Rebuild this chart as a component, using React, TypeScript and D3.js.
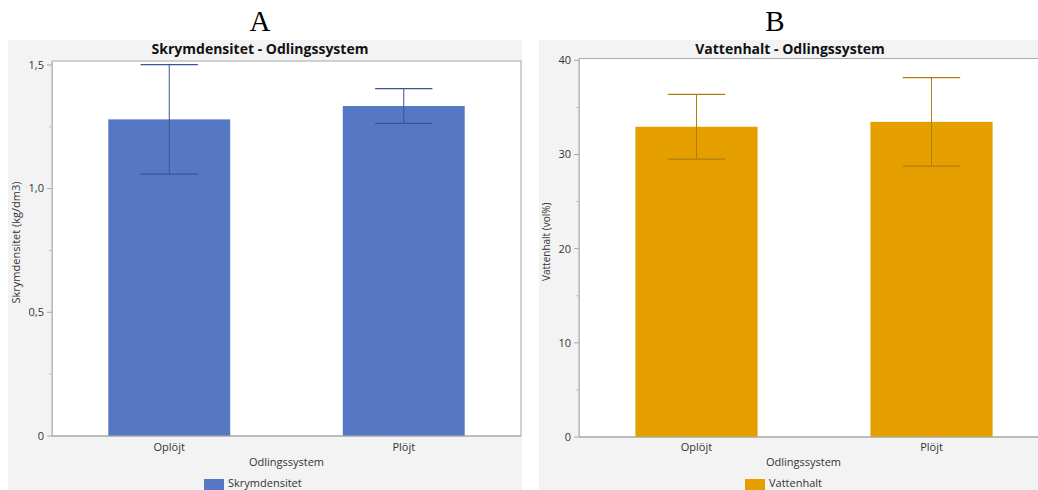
import React from "react";
import * as d3 from "d3";

const categories = ["Oplöjt", "Plöjt"];
const densityMeans = [1.28, 1.334];
const densityErrors = [0.221, 0.07];
const waterMeans = [32.95, 33.47];
const waterErrors = [3.43, 4.7];
const densityTicks = [0, 0.5, 1.0, 1.5];
const densityMinor = [0.25, 0.75, 1.25];
const waterTicks = [0, 10, 20, 30, 40];
const waterMinor = [5, 15, 25, 35];

const FONT = "'Open Sans', 'Noto Sans', sans-serif";

type PanelProps = {
  letter: string;
  title: string;
  yLabel: string;
  legend: string;
  means: number[];
  errors: number[];
  ticks: number[];
  minor: number[];
  domainMax: number;
  fmt: (v: number) => string;
  bgX: number;
  bgW: number;
  plotL: number;
  plotR: number;
  plotT: number;
  plotB: number;
  color: string;
  errColor: string;
  letterX: number;
  titleX: number;
  yLabelX: number;
  yLabelSize: number;
  legendX: number;
  clipId: string;
};

function Panel(p: PanelProps) {
  const x = d3
    .scaleBand<string>()
    .domain(categories)
    .range([p.plotL, p.plotR])
    .paddingInner(0.48)
    .paddingOuter(0.24);
  const y = d3.scaleLinear().domain([0, p.domainMax]).range([p.plotB, p.plotT]);
  const capW = x.bandwidth() * 0.47;
  const midY = (p.plotT + p.plotB) / 2;
  return (
    <g>
      <rect x={p.bgX} y={40} width={p.bgW} height={450} fill="#f3f3f3" />
      <text
        x={p.letterX}
        y={31}
        textAnchor="middle"
        fontFamily="'Liberation Serif', 'DejaVu Serif', serif"
        fontSize={29}
        fill="#000"
      >
        {p.letter}
      </text>
      <text
        x={p.titleX}
        y={54}
        textAnchor="middle"
        fontFamily={FONT}
        fontWeight="bold"
        fontSize={14}
        fill="#111"
      >
        {p.title}
      </text>
      <defs>
        <clipPath id={p.clipId}>
          <rect x={p.plotL} y={p.plotT - 2} width={p.plotR - p.plotL + 2} height={p.plotB - p.plotT + 4} />
        </clipPath>
      </defs>
      <g clipPath={`url(#${p.clipId})`}>
        <rect
          x={p.plotL}
          y={p.plotT}
          width={p.plotR - p.plotL}
          height={p.plotB - p.plotT}
          fill="#fff"
          stroke="#a8a8a8"
          strokeWidth={1}
        />
        {categories.map((c, i) => {
          const bx = x(c)!;
          const cx = bx + x.bandwidth() / 2;
          const hi = y(p.means[i] + p.errors[i]);
          const lo = y(p.means[i] - p.errors[i]);
          return (
            <g key={c}>
              <rect
                x={bx}
                y={y(p.means[i])}
                width={x.bandwidth()}
                height={p.plotB - y(p.means[i])}
                fill={p.color}
              />
              <line x1={cx} x2={cx} y1={hi} y2={lo} stroke={p.errColor} strokeWidth={1} />
              <line x1={cx - capW / 2} x2={cx + capW / 2} y1={hi} y2={hi} stroke={p.errColor} strokeWidth={1.3} />
              <line x1={cx - capW / 2} x2={cx + capW / 2} y1={lo} y2={lo} stroke={p.errColor} strokeWidth={1.3} />
            </g>
          );
        })}
      </g>
      {/* axes */}
      <line x1={p.plotL} x2={p.plotR} y1={p.plotB} y2={p.plotB} stroke="#a8a8a8" />
      <line x1={p.plotL} x2={p.plotL} y1={p.plotT} y2={p.plotB} stroke="#a8a8a8" />
      {p.ticks.map((t) => (
        <g key={t}>
          <line x1={p.plotL - 5} x2={p.plotL} y1={y(t)} y2={y(t)} stroke="#a8a8a8" />
          <text
            x={p.plotL - 8}
            y={y(t)}
            dy="0.35em"
            textAnchor="end"
            fontFamily={FONT}
            fontSize={11}
            fill="#333"
          >
            {p.fmt(t)}
          </text>
        </g>
      ))}
      {p.minor.map((t) => (
        <line key={t} x1={p.plotL - 3} x2={p.plotL} y1={y(t)} y2={y(t)} stroke="#c0c0c0" />
      ))}
      {categories.map((c) => (
        <text
          key={c}
          x={x(c)! + x.bandwidth() / 2}
          y={451}
          textAnchor="middle"
          fontFamily={FONT}
          fontSize={11}
          fill="#333"
        >
          {c}
        </text>
      ))}
      <text
        x={(p.plotL + Math.min(p.plotR, 1038)) / 2 + (p.plotR > 1038 ? -5 : 0)}
        y={466}
        textAnchor="middle"
        fontFamily={FONT}
        fontSize={11}
        fill="#333"
      >
        Odlingssystem
      </text>
      <text
        transform={`translate(${p.yLabelX},${midY - 6}) rotate(-90)`}
        textAnchor="middle"
        fontFamily={FONT}
        fontSize={p.yLabelSize}
        fill="#333"
      >
        {p.yLabel}
      </text>
      <rect x={p.legendX} y={479} width={20} height={11} fill={p.color} />
      <text x={p.legendX + 24} y={487} fontFamily={FONT} fontSize={11} fill="#333">
        {p.legend}
      </text>
    </g>
  );
}

export default function App() {
  return (
    <svg
      width={1038}
      height={490}
      style={{ position: "absolute", left: 0, top: 0, background: "#fff" }}
    >
      <Panel
        letter="A"
        title="Skrymdensitet - Odlingssystem"
        yLabel="Skrymdensitet (kg/dm3)"
        legend="Skrymdensitet"
        means={densityMeans}
        errors={densityErrors}
        ticks={densityTicks}
        minor={densityMinor}
        domainMax={1.516}
        fmt={(v) => d3.format(".1f")(v).replace(".", ",").replace(/^0,0$/, "0")}
        bgX={8}
        bgW={514}
        plotL={52}
        plotR={521}
        plotT={61}
        plotB={436}
        color="#5677c4"
        errColor="#3b5598"
        letterX={260}
        titleX={260}
        yLabelX={20}
        yLabelSize={11}
        legendX={204}
        clipId="clipA"
      />
      <Panel
        letter="B"
        title="Vattenhalt - Odlingssystem"
        yLabel="Vattenhalt (vol%)"
        legend="Vattenhalt"
        means={waterMeans}
        errors={waterErrors}
        ticks={waterTicks}
        minor={waterMinor}
        domainMax={40.2}
        fmt={(v) => String(v)}
        bgX={539}
        bgW={499}
        plotL={579}
        plotR={1049}
        plotT={58.5}
        plotB={437}
        color="#e5a000"
        errColor="#b07d10"
        letterX={775}
        titleX={790}
        yLabelX={550}
        yLabelSize={10}
        legendX={745}
        clipId="clipB"
      />
    </svg>
  );
}
